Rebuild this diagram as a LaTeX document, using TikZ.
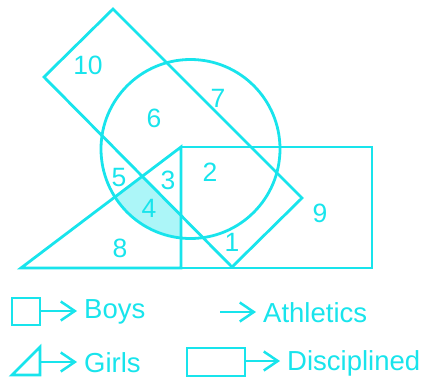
\documentclass[tikz,border=0pt]{standalone}
\usepackage{fontspec}
\setmainfont{Liberation Sans}
\usetikzlibrary{arrows.meta}
\definecolor{cy}{RGB}{24,228,236}
\definecolor{cyfill}{RGB}{172,246,248}
\tikzset{
  shp/.style={draw=cy, line width=2.8pt, line join=miter},
  lbl/.style={text=cy, font=\fontsize{26.5}{30}\selectfont, inner sep=0pt},
  leg/.style={text=cy, font=\fontsize{27.5}{30}\selectfont, inner sep=0pt, anchor=base west},
  arr/.style={draw=cy, line width=2.5pt, -{Straight Barb[length=14pt,width=19pt]}}
}
\begin{document}
\begin{tikzpicture}[x=1pt,y=-1pt]
\useasboundingbox (0,0) rectangle (421,381);
% shaded region 4
\begin{scope}
  \clip (190.5,149) circle (89.5);
  \clip (21,268) -- (181,147) -- (181,268) -- cycle;
  \clip (44,77) -- (232,267) -- (0,267) -- cycle;
  \fill[cyfill] (100,140) rectangle (200,250);
\end{scope}
% shapes
\draw[shp] (113,9) -- (302,198) -- (232,267) -- (44,77) -- cycle;
\draw[shp] (190.5,149) circle (89.5);
\draw[shp] (181,147) rectangle (372,268);
\draw[shp] (21,268) -- (181,147) -- (181,268) -- cycle;
% labels
\node[lbl] (n10) at (88,65) {10};
\node[lbl] (n6) at (154,118) {6};
\node[lbl] (n7) at (218,98) {7};
\node[lbl] (n5) at (119,178) {5};
\node[lbl] (n3) at (168,180) {3};
\node[lbl] (n2) at (210,172) {2};
\node[lbl] (n4) at (149,208) {4};
\node[lbl] (n9) at (320,213) {9};
\node[lbl] (n8) at (120,248) {8};
\node[lbl] (n1) at (232,242) {1};
% legend
\draw[shp] (12,298) rectangle (40,325);
\coordinate (b1) at (40,311);
\coordinate (b2) at (77,311);
\draw[arr] (b1) -- (b2);
\node[leg] (boys) at (84,318) {Boys};
\coordinate (a1) at (220,312);
\coordinate (a2) at (256,312);
\draw[arr] (a1) -- (a2);
\node[leg] (ath) at (263,322) {Athletics};
\draw[shp] (12,375) -- (40,347) -- (40,375) -- cycle;
\coordinate (g1) at (40,362);
\coordinate (g2) at (77,362);
\draw[arr] (g1) -- (g2);
\node[leg] (girls) at (84,372) {Girls};
\draw[shp] (187,348) rectangle (245,376);
\coordinate (d1) at (245,361);
\coordinate (d2) at (280,361);
\draw[arr] (d1) -- (d2);
\node[leg] (disc) at (287,370) {Disciplined};
\end{tikzpicture}
\end{document}
